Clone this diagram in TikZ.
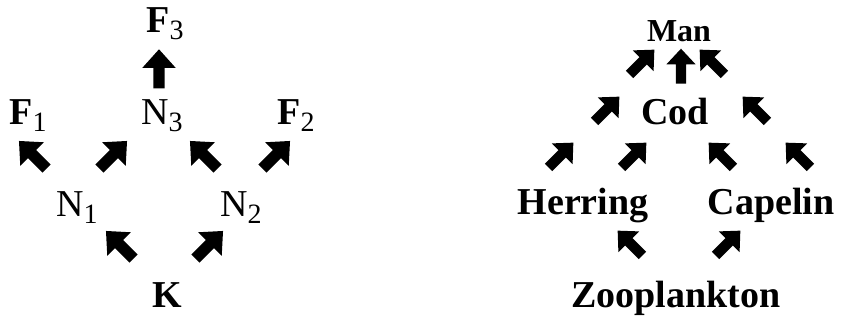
\documentclass[tikz,border=0pt]{standalone}
\usepackage{fontspec}
\setmainfont{Liberation Serif}
\usepackage{tikz}
\usetikzlibrary{shapes.arrows}

\newcommand{\lsub}[1]{\raisebox{-7pt}{\fontsize{28}{28}\selectfont\mdseries #1}}

\tikzset{
  lbl/.style={inner sep=0pt,anchor=base,font=\fontsize{38}{40}\selectfont\bfseries},
  lblthin/.style={inner sep=0pt,anchor=base,font=\fontsize{38}{40}\selectfont},
  fat/.style={single arrow,fill=black,inner xsep=0pt,inner ysep=5.5pt,
    minimum height=39pt,single arrow head extend=11pt,single arrow tip angle=84},
  fatsm/.style={single arrow,fill=black,inner xsep=0pt,inner ysep=5pt,
    minimum height=35pt,single arrow head extend=9.5pt,single arrow tip angle=86}
}

\begin{document}
\begin{tikzpicture}[x=1pt,y=-1pt]
    \useasboundingbox (0,0) rectangle (841,320);

    \node[lbl] (f3) at (165,33) {F\lsub{3}};
    \node[lbl] (f1) at (28,125) {F\lsub{1}};
    \node[lblthin] (n3) at (162,125) {N\lsub{3}};
    \node[lbl] (f2) at (296,125) {F\lsub{2}};
    \node[lblthin] (n1) at (77,217) {N\lsub{1}};
    \node[lblthin] (n2) at (241,217) {N\lsub{2}};
    \node[lbl] (k) at (167,308) {K};

    \node[fat,rotate=90] (a0) at (159,72) {};
    \node[fat,rotate=135] (a1) at (35,157) {};
    \node[fat,rotate=45] (a2) at (111,157) {};
    \node[fat,rotate=135] (a3) at (206,157) {};
    \node[fat,rotate=45] (a4) at (274,157) {};
    \node[fat,rotate=135] (a5) at (122,247) {};
    \node[fat,rotate=45] (a6) at (207,247) {};

    \node[lbl,font=\fontsize{32}{34}\selectfont\bfseries] (man) at (679,42) {Man};
    \node[lbl] (cod) at (675,125) {Cod};
    \node[lbl] (herring) at (583,215) {Herring};
    \node[lbl] (capelin) at (771,215) {Capelin};
    \node[lbl] (zoo) at (676,308) {Zooplankton};

    \node[fatsm,rotate=45] (b1) at (640,64) {};
    \node[fatsm,rotate=90] (b2) at (681,69) {};
    \node[fatsm,rotate=135] (b3) at (714,64) {};
    \node[fatsm,rotate=45] (b4) at (605,111) {};
    \node[fatsm,rotate=135] (b5) at (757,111) {};
    \node[fatsm,rotate=45] (b6) at (559,157) {};
    \node[fatsm,rotate=45] (b7) at (632,157) {};
    \node[fatsm,rotate=135] (b8) at (723,157) {};
    \node[fatsm,rotate=135] (b9) at (800,157) {};
    \node[fatsm,rotate=135] (b10) at (632,245) {};
    \node[fatsm,rotate=45] (b11) at (726,245) {};
\end{tikzpicture}
\end{document}
